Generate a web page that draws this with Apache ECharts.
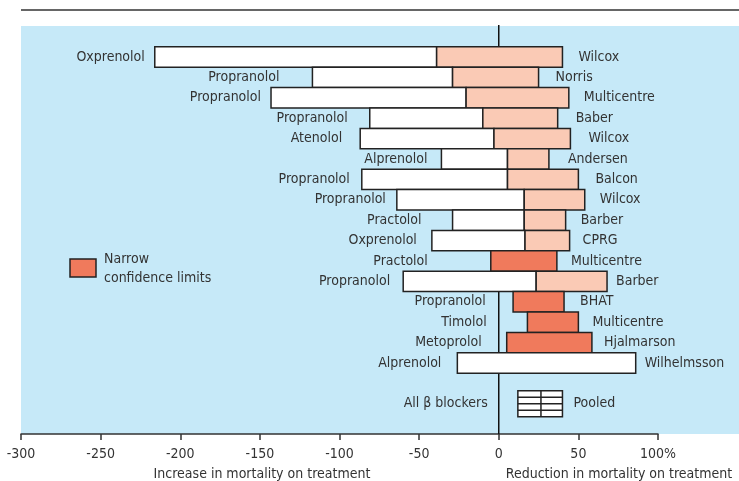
<!DOCTYPE html>
<html>
<head>
<meta charset="utf-8">
<script src="https://cdn.jsdelivr.net/npm/echarts@6/dist/echarts.min.js"></script>
<style>
  html, body { margin: 0; padding: 0; background: #fff; }
  #chart { width: 739px; height: 481px; }
</style>
</head>
<body>
<div id="chart"></div>
<script>
// drug and trial for each row, top to bottom
const drugs = ['Oxprenolol', 'Propranolol', 'Propranolol', 'Propranolol', 'Atenolol', 'Alprenolol',
  'Propranolol', 'Propranolol', 'Practolol', 'Oxprenolol', 'Practolol', 'Propranolol',
  'Propranolol', 'Timolol', 'Metoprolol', 'Alprenolol']
const trials = ['Wilcox', 'Norris', 'Multicentre', 'Baber', 'Wilcox', 'Andersen',
  'Balcon', 'Wilcox', 'Barber', 'CPRG', 'Multicentre', 'Barber',
  'BHAT', 'Multicentre', 'Hjalmarson', 'Wilhelmsson']
// confidence limits (% reduction in mortality); white part runs lower -> split, shaded split -> upper
const lower = [-216, -117, -143, -81, -87, -36, -86, -64, -29, -42, -5, -60, 9, 18, 5, -26]
const split = [-39, -29, -20.5, -10, -3, 5.5, 5.5, 16, 16, 16.5, -5, 23.5, 9, 18, 5, 86]
const upper = [40, 25, 44, 37, 45, 31.5, 50, 54, 42, 44.5, 36.5, 68, 41, 50, 58.5, 86]
const narrow = [0, 0, 0, 0, 0, 0, 0, 0, 0, 0, 1, 0, 1, 1, 1, 0]
// pooled estimate: lower, point, upper
const pooled = [12, 26.5, 40]
const xTicks = [-300, -250, -200, -150, -100, -50, 0, 50, 100]

// label gaps in pixels (layout only)
const leftGap = [10, 33, 10, 22, 18, 14, 12, 11, 31, 15, 63, 13, 13, 12, 17, 16]
const rightGap = [16, 17, 15, 18, 18, 19, 17, 15, 15, 13, 14, 9, 16, 14, 12, 9]

const FONT = "'DejaVu Sans Condensed', 'Liberation Sans Narrow', 'Liberation Sans', sans-serif"
const FS = 14
const TXT = '#333'
const BLUE = '#c6e9f8'
const PINK = '#facab5'
const DARK = '#f07a5c'
const EDGE = '#222'

const chart = echarts.init(document.getElementById('chart'))

function label(x, y, text, align) {
  return {
    type: 'text',
    style: { x: x, y: y, text: text, align: align, verticalAlign: 'middle', fill: TXT, font: FS + 'px ' + FONT }
  }
}

function renderRow(params, api) {
  const i = params.dataIndex
  const h = api.size([0, 1])[1]
  const y0 = api.coord([0, i])[1] - h / 2
  const xl = api.coord([lower[i], i])[0]
  const xs = api.coord([split[i], i])[0]
  const xu = api.coord([upper[i], i])[0]
  const x0 = api.coord([0, i])[0]
  const children = []
  if (xs > xl) {
    children.push({ type: 'rect', shape: { x: xl, y: y0, width: xs - xl, height: h },
      style: { fill: '#fff', stroke: EDGE, lineWidth: 1.5 } })
  }
  if (xu > xs) {
    children.push({ type: 'rect', shape: { x: xs, y: y0, width: xu - xs, height: h },
      style: { fill: narrow[i] ? DARK : PINK, stroke: EDGE, lineWidth: 1.5 } })
  }
  children.push(label(Math.min(xl, x0) - leftGap[i], y0 + h / 2, drugs[i], 'right'))
  children.push(label(xu + rightGap[i], y0 + h / 2, trials[i], 'left'))
  return { type: 'group', children: children }
}

function renderPooled(params, api) {
  const row = 17
  const h = 26
  const yc = api.coord([0, row])[1]
  const y0 = yc - h / 2
  const xl = api.coord([pooled[0], row])[0]
  const xm = api.coord([pooled[1], row])[0]
  const xu = api.coord([pooled[2], row])[0]
  const x0 = api.coord([0, row])[0]
  const ln = { stroke: EDGE, lineWidth: 1.5 }
  const children = [
    { type: 'rect', shape: { x: xl, y: y0, width: xu - xl, height: h }, style: { fill: '#fff', stroke: EDGE, lineWidth: 1.5 } },
    { type: 'line', shape: { x1: xm, y1: y0, x2: xm, y2: y0 + h }, style: ln }
  ]
  for (let k = 1; k < 4; k++) {
    const yy = y0 + h * k / 4
    children.push({ type: 'line', shape: { x1: xl, y1: yy, x2: xu, y2: yy }, style: ln })
  }
  children.push(label(x0 - 11, yc, 'All \u03b2 blockers', 'right'))
  children.push(label(xu + 11, yc, 'Pooled', 'left'))
  return { type: 'group', children: children }
}

function renderZero(params, api) {
  const top = api.coord([0, -1.52])
  const bot = api.coord([0, 18.48])
  return { type: 'line', shape: { x1: top[0], y1: top[1] - 1, x2: bot[0], y2: bot[1] },
    style: { stroke: '#111', lineWidth: 1.5 } }
}

const option = {
  animation: false,
  backgroundColor: '#fff',
  grid: { left: 21, right: 81, top: 26, bottom: 47 },
  xAxis: {
    type: 'value',
    min: xTicks[0],
    max: xTicks[xTicks.length - 1],
    interval: 50,
    axisLine: { onZero: false, lineStyle: { color: TXT, width: 1.5 } },
    axisTick: { length: 6, lineStyle: { color: TXT, width: 1.5 } },
    axisLabel: {
      color: TXT, fontSize: FS, fontFamily: FONT, margin: 13,
      formatter: v => (v === 100 ? '100%' : String(v))
    },
    splitLine: { show: false }
  },
  yAxis: { type: 'value', inverse: true, min: -1.52, max: 18.48, show: false },
  graphic: [
    { type: 'rect', z: -10, silent: true, shape: { x: 21, y: 26, width: 718, height: 408 }, style: { fill: BLUE } },
    { type: 'line', shape: { x1: 21, y1: 10, x2: 739, y2: 10 }, style: { stroke: TXT, lineWidth: 1.5 } },
    { type: 'rect', shape: { x: 70, y: 259, width: 26, height: 18 }, style: { fill: DARK, stroke: EDGE, lineWidth: 1.5 } },
    { type: 'text', style: { x: 104, y: 259, text: 'Narrow', fill: TXT, font: FS + 'px ' + FONT, verticalAlign: 'middle' } },
    { type: 'text', style: { x: 104, y: 278, text: 'confidence limits', fill: TXT, font: FS + 'px ' + FONT, verticalAlign: 'middle' } },
    { type: 'text', style: { x: 262, y: 474, text: 'Increase in mortality on treatment', fill: TXT, font: FS + 'px ' + FONT, align: 'center', verticalAlign: 'middle' } },
    { type: 'text', style: { x: 619, y: 474, text: 'Reduction in mortality on treatment', fill: TXT, font: FS + 'px ' + FONT, align: 'center', verticalAlign: 'middle' } }
  ],
  series: [
    { type: 'custom', renderItem: renderZero, data: [[0, 0]], z: 1, silent: true },
    { type: 'custom', renderItem: renderRow, data: drugs.map((d, i) => [lower[i], i]), z: 2, clip: false },
    { type: 'custom', renderItem: renderPooled, data: [[pooled[1], 17]], z: 2, clip: false }
  ]
}
chart.setOption(option)
</script>
</body>
</html>
